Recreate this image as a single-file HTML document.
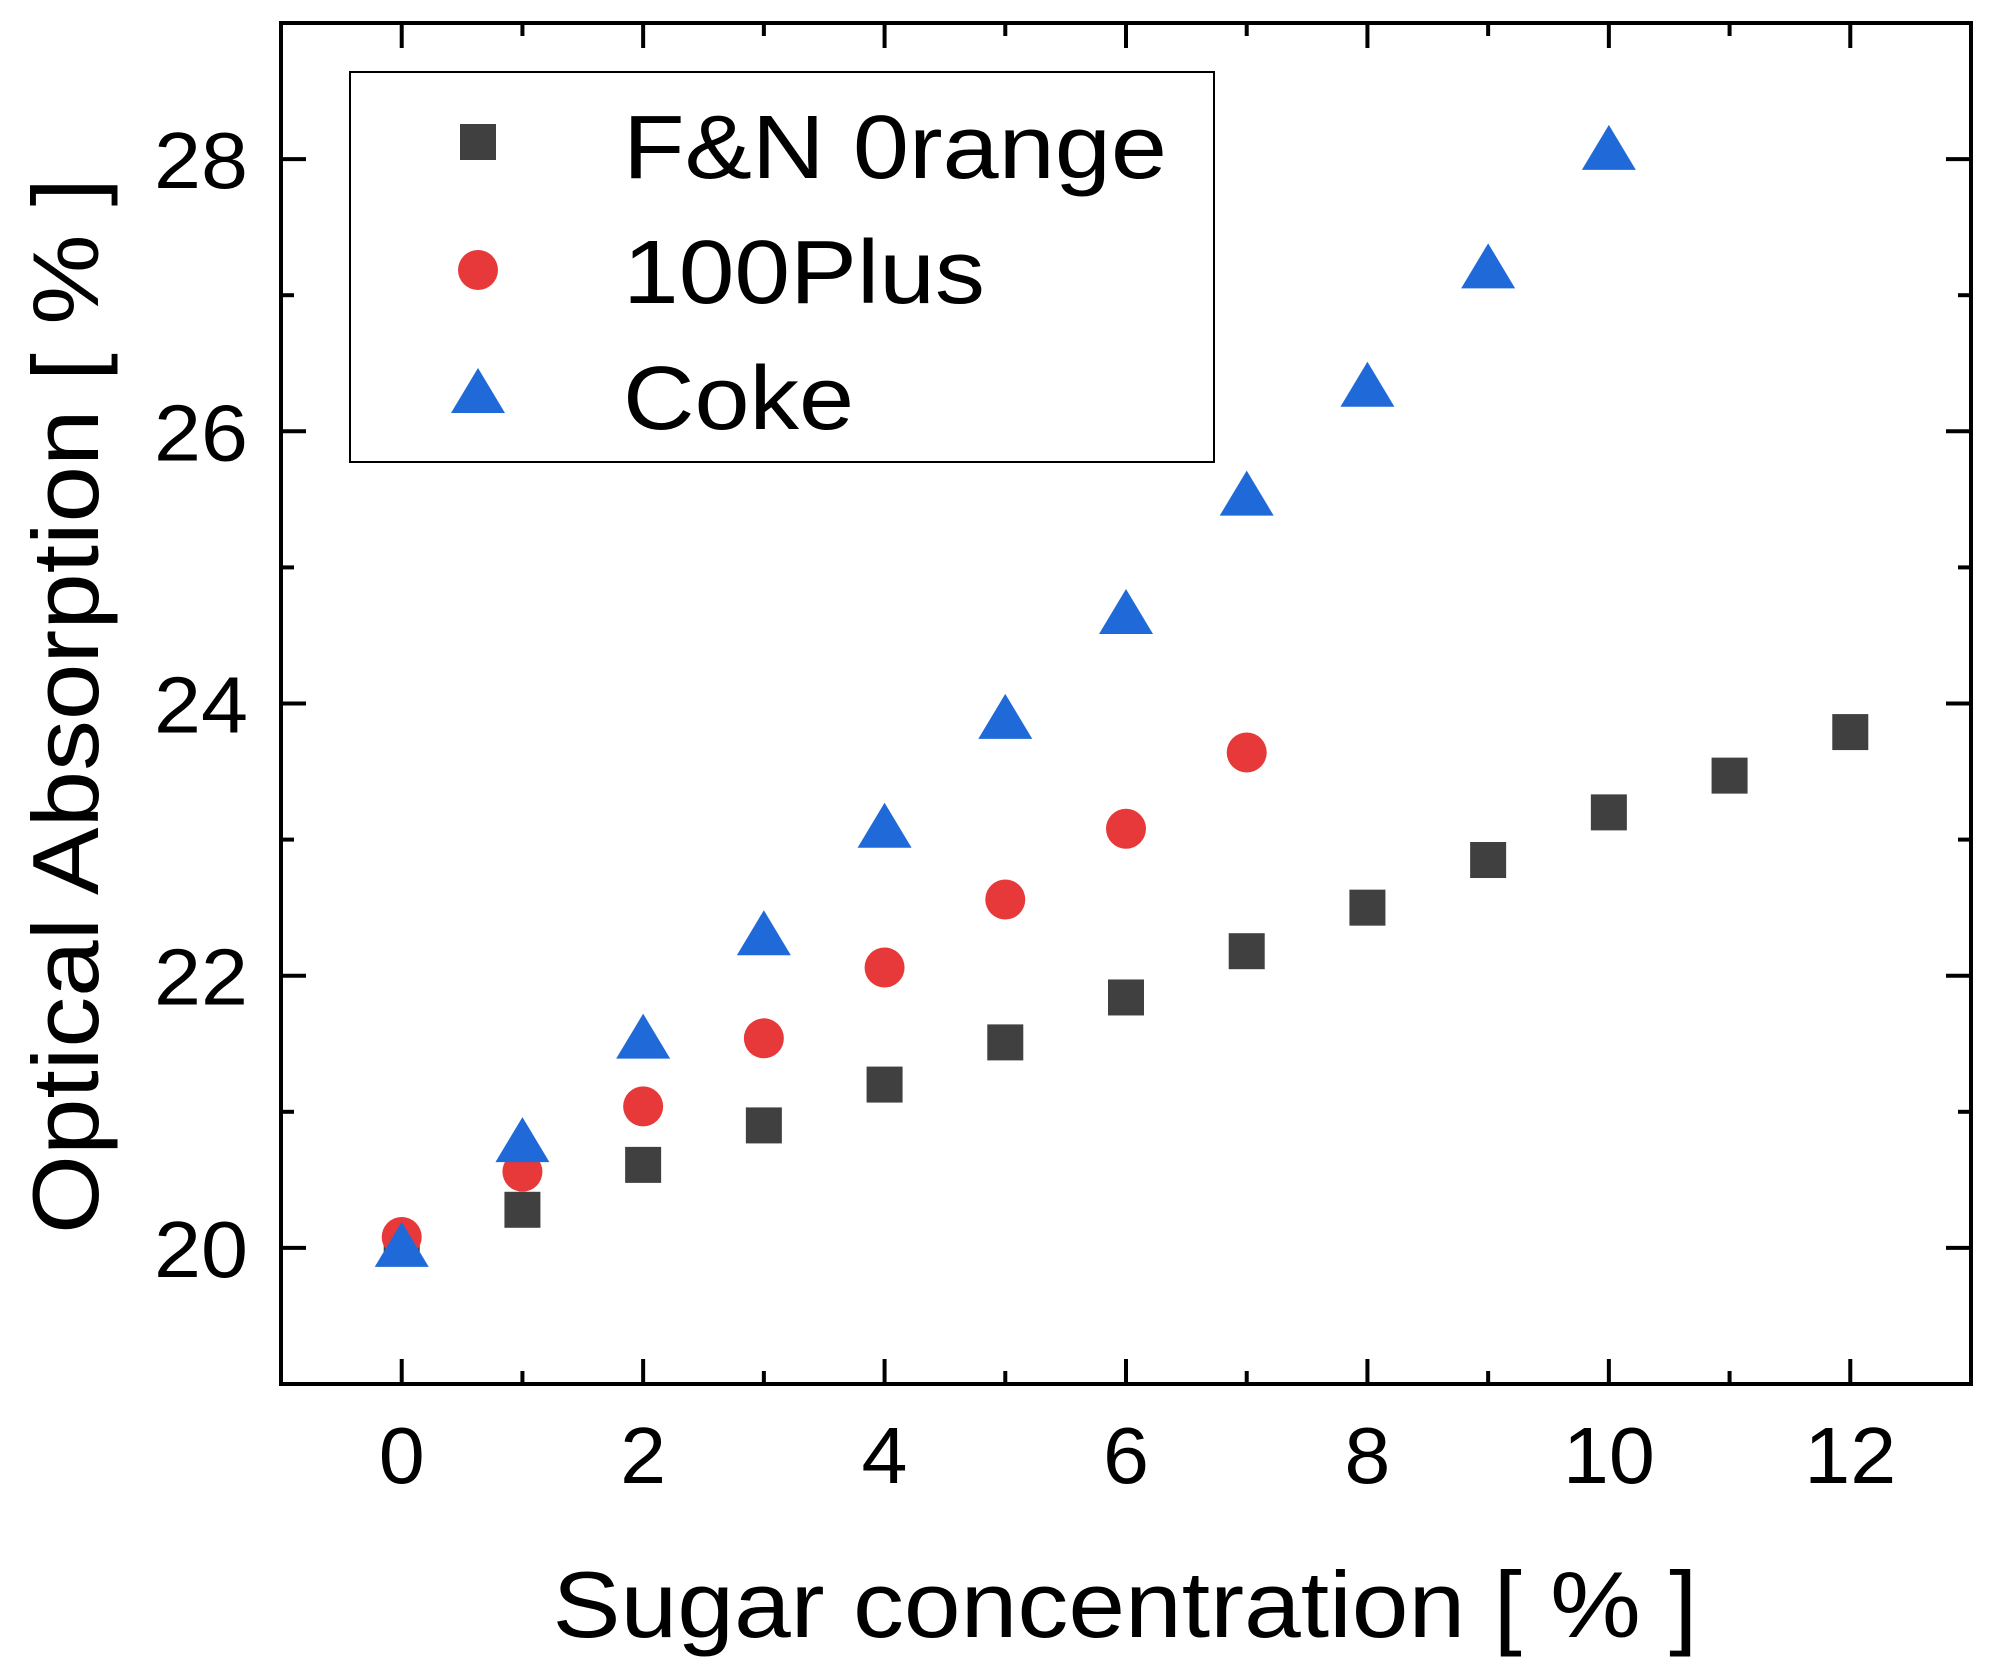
<!DOCTYPE html>
<html><head><meta charset="utf-8"><style>
html,body{margin:0;padding:0;background:#fff;}
svg{display:block;font-family:"Liberation Sans",Arial,sans-serif;}
</style></head><body>
<svg id="chart" width="1994" height="1678" viewBox="0 0 1994 1678">
<g id="axes"></g>
<g id="marks"></g>
<g id="legend"></g>
</svg>
<script>
const xTicks = [0,2,4,6,8,10,12];
const yTicks = [20,22,24,26,28];
const xsFN = [0,1,2,3,4,5,6,7,8,9,10,11,12];
const ysFN = [20.0,20.28,20.61,20.9,21.2,21.51,21.84,22.18,22.5,22.85,23.2,23.47,23.79];
const xsPlus = [0,1,2,3,4,5,6,7];
const ysPlus = [20.08,20.56,21.04,21.54,22.06,22.56,23.08,23.64];
const xsCoke = [0,1,2,3,4,5,6,7,8,9,10];
const ysCoke = [20.0,20.77,21.53,22.29,23.08,23.88,24.65,25.52,26.32,27.19,28.06];
const seriesNames = ["F&N 0range","100Plus","Coke"];

const L=281,R=1971,T=23,B=1384;
const xMin=-1,xMax=13,yMin=19,yMax=29;
const sx=v=>L+(v-xMin)/(xMax-xMin)*(R-L);
const sy=v=>B-(v-yMin)/(yMax-yMin)*(B-T);
const NS="http://www.w3.org/2000/svg";
function mk(tag,attrs,parent){const e=document.createElementNS(NS,tag);for(const k in attrs)e.setAttribute(k,attrs[k]);parent.appendChild(e);return e;}
const axes=document.getElementById('axes'),marks=document.getElementById('marks'),leg=document.getElementById('legend');

const frame=mk('rect',{x:L,y:T,width:R-L,height:B-T,fill:'none',stroke:'#000','stroke-width':4},axes);



for(let v=xMin+1;v<xMax;v++){
  const major=xTicks.includes(v);const len=major?25:13;const x=sx(v);
  const t1=mk('line',{x1:x,y1:B,x2:x,y2:B-len,stroke:'#000','stroke-width':4},axes);
  
  
  const t2=mk('line',{x1:x,y1:T,x2:x,y2:T+len,stroke:'#000','stroke-width':4},axes);
  
  
  if(major){const s=String(v);const tx=mk('text',{x:x,y:1483,'font-size':80,'text-anchor':'middle',fill:'#000',textLength:46*s.length,lengthAdjust:'spacingAndGlyphs'},axes);tx.textContent=s;
    
    }
}
for(let v=yMin+1;v<yMax;v++){
  const major=yTicks.includes(v);const len=major?25:13;const y=sy(v);
  const t1=mk('line',{x1:L,y1:y,x2:L+len,y2:y,stroke:'#000','stroke-width':4},axes);
  
  
  const t2=mk('line',{x1:R,y1:y,x2:R-len,y2:y,stroke:'#000','stroke-width':4},axes);
  
  
  if(major){const s=String(v);const tx=mk('text',{x:248,y:y+29,'font-size':80,'text-anchor':'end',fill:'#000',textLength:47*s.length,lengthAdjust:'spacingAndGlyphs'},axes);tx.textContent=s;
    
    }
}
const xt=mk('text',{x:1125,y:1637,'font-size':94,'text-anchor':'middle',fill:'#000',textLength:1145,lengthAdjust:'spacingAndGlyphs'},axes);
xt.textContent='Sugar concentration [ % ]';


const yt=mk('text',{x:0,y:0,'font-size':94,'text-anchor':'middle',fill:'#000',transform:'translate(98,706) rotate(-90)',textLength:1056,lengthAdjust:'spacingAndGlyphs'},axes);
yt.textContent='Optical Absorption [ % ]';



function square(cx,cy,p){return mk('rect',{x:cx-18,y:cy-18,width:36,height:36,fill:'#404040'},p);}
function circle(cx,cy,p){return mk('circle',{cx:cx,cy:cy,r:20,fill:'#e8393a'},p);}
function tri(cx,cy,p){return mk('polygon',{points:`${cx},${cy-26} ${cx+27},${cy+19} ${cx-27},${cy+19}`,fill:'#1f6ad8'},p);}

xsFN.forEach((x,i)=>{const m=square(sx(x),sy(ysFN[i]),marks);
  
  });
xsPlus.forEach((x,i)=>{const m=circle(sx(x),sy(ysPlus[i]),marks);
  
  });
xsCoke.forEach((x,i)=>{const m=tri(sx(x),sy(ysCoke[i]),marks);
  
  });

const lb=mk('rect',{x:350,y:72,width:864,height:390,fill:'#fff',stroke:'#000','stroke-width':2},leg);


const rows=[142,270,394];
const baselines=[178,303,429];
const widths=[544,362,231];
const fns=[square,circle,tri];
rows.forEach((y,i)=>{
  const m=fns[i](478,y,leg);
  
  
  const t=mk('text',{x:623,y:baselines[i],'font-size':90,fill:'#000',textLength:widths[i],lengthAdjust:'spacingAndGlyphs'},leg);
  t.textContent=seriesNames[i];
  
  
});
</script>
</body></html>
